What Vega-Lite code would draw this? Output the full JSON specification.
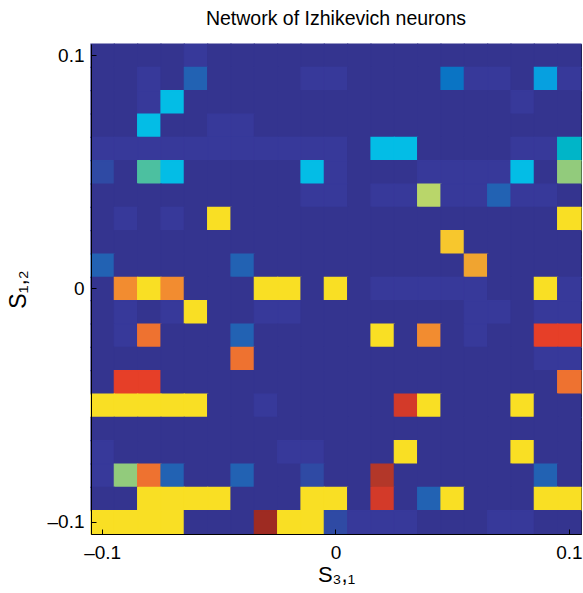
{
  "$schema": "https://vega.github.io/schema/vega-lite/v6.json",
  "width": 490,
  "height": 490,
  "autosize": {"type": "none"},
  "padding": {"left": 91, "top": 44, "right": 2, "bottom": 59},
  "background": "white",
  "config": {
    "font": "Liberation Sans",
    "view": {"stroke": "#000000", "strokeWidth": 1, "fill": "#34348f"},
    "axis": {"labelFont": "Liberation Sans", "titleFont": "Liberation Sans", "labelColor": "#000", "titleColor": "#000", "domainColor": "#000", "tickColor": "#000", "titleFontWeight": "normal", "grid": false}
  },
  "title": {"text": "Network of Izhikevich neurons", "fontSize": 19.5, "fontWeight": "normal", "color": "#000", "font": "Liberation Sans", "anchor": "middle", "offset": 14},
  "data": {"values": [
{"x":-0.1,"y":0.1,"v":0},{"x":-0.09,"y":0.1,"v":0},{"x":-0.08,"y":0.1,"v":0},{"x":-0.07,"y":0.1,"v":0},{"x":-0.06,"y":0.1,"v":1},{"x":-0.05,"y":0.1,"v":0},{"x":-0.04,"y":0.1,"v":0},{"x":-0.03,"y":0.1,"v":0},{"x":-0.02,"y":0.1,"v":0},{"x":-0.01,"y":0.1,"v":0},{"x":0,"y":0.1,"v":0},{"x":0.01,"y":0.1,"v":0},{"x":0.02,"y":0.1,"v":0},{"x":0.03,"y":0.1,"v":0},{"x":0.04,"y":0.1,"v":0},{"x":0.05,"y":0.1,"v":0},{"x":0.06,"y":0.1,"v":0},{"x":0.07,"y":0.1,"v":0},{"x":0.08,"y":0.1,"v":0},{"x":0.09,"y":0.1,"v":0},{"x":0.1,"y":0.1,"v":0},
{"x":-0.1,"y":0.09,"v":0},{"x":-0.09,"y":0.09,"v":0},{"x":-0.08,"y":0.09,"v":1},{"x":-0.07,"y":0.09,"v":0},{"x":-0.06,"y":0.09,"v":3},{"x":-0.05,"y":0.09,"v":0},{"x":-0.04,"y":0.09,"v":0},{"x":-0.03,"y":0.09,"v":0},{"x":-0.02,"y":0.09,"v":0},{"x":-0.01,"y":0.09,"v":1},{"x":0,"y":0.09,"v":1},{"x":0.01,"y":0.09,"v":0},{"x":0.02,"y":0.09,"v":0},{"x":0.03,"y":0.09,"v":0},{"x":0.04,"y":0.09,"v":0},{"x":0.05,"y":0.09,"v":4},{"x":0.06,"y":0.09,"v":1},{"x":0.07,"y":0.09,"v":1},{"x":0.08,"y":0.09,"v":0},{"x":0.09,"y":0.09,"v":5},{"x":0.1,"y":0.09,"v":1},
{"x":-0.1,"y":0.08,"v":0},{"x":-0.09,"y":0.08,"v":0},{"x":-0.08,"y":0.08,"v":1},{"x":-0.07,"y":0.08,"v":6},{"x":-0.06,"y":0.08,"v":0},{"x":-0.05,"y":0.08,"v":0},{"x":-0.04,"y":0.08,"v":0},{"x":-0.03,"y":0.08,"v":0},{"x":-0.02,"y":0.08,"v":0},{"x":-0.01,"y":0.08,"v":0},{"x":0,"y":0.08,"v":0},{"x":0.01,"y":0.08,"v":0},{"x":0.02,"y":0.08,"v":0},{"x":0.03,"y":0.08,"v":0},{"x":0.04,"y":0.08,"v":0},{"x":0.05,"y":0.08,"v":0},{"x":0.06,"y":0.08,"v":0},{"x":0.07,"y":0.08,"v":0},{"x":0.08,"y":0.08,"v":1},{"x":0.09,"y":0.08,"v":0},{"x":0.1,"y":0.08,"v":0},
{"x":-0.1,"y":0.07,"v":0},{"x":-0.09,"y":0.07,"v":0},{"x":-0.08,"y":0.07,"v":6},{"x":-0.07,"y":0.07,"v":0},{"x":-0.06,"y":0.07,"v":0},{"x":-0.05,"y":0.07,"v":1},{"x":-0.04,"y":0.07,"v":1},{"x":-0.03,"y":0.07,"v":0},{"x":-0.02,"y":0.07,"v":0},{"x":-0.01,"y":0.07,"v":0},{"x":0,"y":0.07,"v":0},{"x":0.01,"y":0.07,"v":0},{"x":0.02,"y":0.07,"v":0},{"x":0.03,"y":0.07,"v":0},{"x":0.04,"y":0.07,"v":0},{"x":0.05,"y":0.07,"v":0},{"x":0.06,"y":0.07,"v":0},{"x":0.07,"y":0.07,"v":0},{"x":0.08,"y":0.07,"v":0},{"x":0.09,"y":0.07,"v":0},{"x":0.1,"y":0.07,"v":0},
{"x":-0.1,"y":0.06,"v":1},{"x":-0.09,"y":0.06,"v":1},{"x":-0.08,"y":0.06,"v":1},{"x":-0.07,"y":0.06,"v":1},{"x":-0.06,"y":0.06,"v":1},{"x":-0.05,"y":0.06,"v":1},{"x":-0.04,"y":0.06,"v":1},{"x":-0.03,"y":0.06,"v":1},{"x":-0.02,"y":0.06,"v":1},{"x":-0.01,"y":0.06,"v":1},{"x":0,"y":0.06,"v":1},{"x":0.01,"y":0.06,"v":0},{"x":0.02,"y":0.06,"v":6},{"x":0.03,"y":0.06,"v":6},{"x":0.04,"y":0.06,"v":0},{"x":0.05,"y":0.06,"v":0},{"x":0.06,"y":0.06,"v":0},{"x":0.07,"y":0.06,"v":0},{"x":0.08,"y":0.06,"v":1},{"x":0.09,"y":0.06,"v":1},{"x":0.1,"y":0.06,"v":7},
{"x":-0.1,"y":0.05,"v":2},{"x":-0.09,"y":0.05,"v":0},{"x":-0.08,"y":0.05,"v":8},{"x":-0.07,"y":0.05,"v":6},{"x":-0.06,"y":0.05,"v":0},{"x":-0.05,"y":0.05,"v":0},{"x":-0.04,"y":0.05,"v":0},{"x":-0.03,"y":0.05,"v":0},{"x":-0.02,"y":0.05,"v":0},{"x":-0.01,"y":0.05,"v":6},{"x":0,"y":0.05,"v":1},{"x":0.01,"y":0.05,"v":0},{"x":0.02,"y":0.05,"v":0},{"x":0.03,"y":0.05,"v":0},{"x":0.04,"y":0.05,"v":1},{"x":0.05,"y":0.05,"v":1},{"x":0.06,"y":0.05,"v":1},{"x":0.07,"y":0.05,"v":1},{"x":0.08,"y":0.05,"v":6},{"x":0.09,"y":0.05,"v":0},{"x":0.1,"y":0.05,"v":9},
{"x":-0.1,"y":0.04,"v":0},{"x":-0.09,"y":0.04,"v":0},{"x":-0.08,"y":0.04,"v":0},{"x":-0.07,"y":0.04,"v":0},{"x":-0.06,"y":0.04,"v":0},{"x":-0.05,"y":0.04,"v":0},{"x":-0.04,"y":0.04,"v":0},{"x":-0.03,"y":0.04,"v":0},{"x":-0.02,"y":0.04,"v":0},{"x":-0.01,"y":0.04,"v":1},{"x":0,"y":0.04,"v":1},{"x":0.01,"y":0.04,"v":0},{"x":0.02,"y":0.04,"v":1},{"x":0.03,"y":0.04,"v":1},{"x":0.04,"y":0.04,"v":10},{"x":0.05,"y":0.04,"v":1},{"x":0.06,"y":0.04,"v":1},{"x":0.07,"y":0.04,"v":3},{"x":0.08,"y":0.04,"v":1},{"x":0.09,"y":0.04,"v":1},{"x":0.1,"y":0.04,"v":0},
{"x":-0.1,"y":0.03,"v":0},{"x":-0.09,"y":0.03,"v":1},{"x":-0.08,"y":0.03,"v":0},{"x":-0.07,"y":0.03,"v":1},{"x":-0.06,"y":0.03,"v":0},{"x":-0.05,"y":0.03,"v":11},{"x":-0.04,"y":0.03,"v":0},{"x":-0.03,"y":0.03,"v":0},{"x":-0.02,"y":0.03,"v":0},{"x":-0.01,"y":0.03,"v":0},{"x":0,"y":0.03,"v":0},{"x":0.01,"y":0.03,"v":0},{"x":0.02,"y":0.03,"v":0},{"x":0.03,"y":0.03,"v":0},{"x":0.04,"y":0.03,"v":0},{"x":0.05,"y":0.03,"v":0},{"x":0.06,"y":0.03,"v":0},{"x":0.07,"y":0.03,"v":0},{"x":0.08,"y":0.03,"v":0},{"x":0.09,"y":0.03,"v":0},{"x":0.1,"y":0.03,"v":11},
{"x":-0.1,"y":0.02,"v":0},{"x":-0.09,"y":0.02,"v":0},{"x":-0.08,"y":0.02,"v":0},{"x":-0.07,"y":0.02,"v":0},{"x":-0.06,"y":0.02,"v":0},{"x":-0.05,"y":0.02,"v":0},{"x":-0.04,"y":0.02,"v":0},{"x":-0.03,"y":0.02,"v":0},{"x":-0.02,"y":0.02,"v":0},{"x":-0.01,"y":0.02,"v":0},{"x":0,"y":0.02,"v":0},{"x":0.01,"y":0.02,"v":0},{"x":0.02,"y":0.02,"v":0},{"x":0.03,"y":0.02,"v":0},{"x":0.04,"y":0.02,"v":0},{"x":0.05,"y":0.02,"v":12},{"x":0.06,"y":0.02,"v":0},{"x":0.07,"y":0.02,"v":0},{"x":0.08,"y":0.02,"v":0},{"x":0.09,"y":0.02,"v":0},{"x":0.1,"y":0.02,"v":0},
{"x":-0.1,"y":0.01,"v":3},{"x":-0.09,"y":0.01,"v":0},{"x":-0.08,"y":0.01,"v":0},{"x":-0.07,"y":0.01,"v":0},{"x":-0.06,"y":0.01,"v":0},{"x":-0.05,"y":0.01,"v":0},{"x":-0.04,"y":0.01,"v":3},{"x":-0.03,"y":0.01,"v":0},{"x":-0.02,"y":0.01,"v":0},{"x":-0.01,"y":0.01,"v":0},{"x":0,"y":0.01,"v":0},{"x":0.01,"y":0.01,"v":0},{"x":0.02,"y":0.01,"v":0},{"x":0.03,"y":0.01,"v":0},{"x":0.04,"y":0.01,"v":0},{"x":0.05,"y":0.01,"v":0},{"x":0.06,"y":0.01,"v":13},{"x":0.07,"y":0.01,"v":0},{"x":0.08,"y":0.01,"v":0},{"x":0.09,"y":0.01,"v":0},{"x":0.1,"y":0.01,"v":0},
{"x":-0.1,"y":0,"v":0},{"x":-0.09,"y":0,"v":14},{"x":-0.08,"y":0,"v":11},{"x":-0.07,"y":0,"v":14},{"x":-0.06,"y":0,"v":0},{"x":-0.05,"y":0,"v":0},{"x":-0.04,"y":0,"v":0},{"x":-0.03,"y":0,"v":11},{"x":-0.02,"y":0,"v":11},{"x":-0.01,"y":0,"v":0},{"x":0,"y":0,"v":11},{"x":0.01,"y":0,"v":0},{"x":0.02,"y":0,"v":1},{"x":0.03,"y":0,"v":1},{"x":0.04,"y":0,"v":1},{"x":0.05,"y":0,"v":1},{"x":0.06,"y":0,"v":1},{"x":0.07,"y":0,"v":0},{"x":0.08,"y":0,"v":0},{"x":0.09,"y":0,"v":11},{"x":0.1,"y":0,"v":1},
{"x":-0.1,"y":-0.01,"v":0},{"x":-0.09,"y":-0.01,"v":1},{"x":-0.08,"y":-0.01,"v":0},{"x":-0.07,"y":-0.01,"v":1},{"x":-0.06,"y":-0.01,"v":11},{"x":-0.05,"y":-0.01,"v":0},{"x":-0.04,"y":-0.01,"v":0},{"x":-0.03,"y":-0.01,"v":1},{"x":-0.02,"y":-0.01,"v":1},{"x":-0.01,"y":-0.01,"v":0},{"x":0,"y":-0.01,"v":0},{"x":0.01,"y":-0.01,"v":0},{"x":0.02,"y":-0.01,"v":0},{"x":0.03,"y":-0.01,"v":0},{"x":0.04,"y":-0.01,"v":0},{"x":0.05,"y":-0.01,"v":0},{"x":0.06,"y":-0.01,"v":1},{"x":0.07,"y":-0.01,"v":1},{"x":0.08,"y":-0.01,"v":0},{"x":0.09,"y":-0.01,"v":1},{"x":0.1,"y":-0.01,"v":1},
{"x":-0.1,"y":-0.02,"v":0},{"x":-0.09,"y":-0.02,"v":1},{"x":-0.08,"y":-0.02,"v":15},{"x":-0.07,"y":-0.02,"v":0},{"x":-0.06,"y":-0.02,"v":0},{"x":-0.05,"y":-0.02,"v":0},{"x":-0.04,"y":-0.02,"v":3},{"x":-0.03,"y":-0.02,"v":0},{"x":-0.02,"y":-0.02,"v":0},{"x":-0.01,"y":-0.02,"v":0},{"x":0,"y":-0.02,"v":0},{"x":0.01,"y":-0.02,"v":0},{"x":0.02,"y":-0.02,"v":11},{"x":0.03,"y":-0.02,"v":0},{"x":0.04,"y":-0.02,"v":14},{"x":0.05,"y":-0.02,"v":0},{"x":0.06,"y":-0.02,"v":1},{"x":0.07,"y":-0.02,"v":0},{"x":0.08,"y":-0.02,"v":0},{"x":0.09,"y":-0.02,"v":16},{"x":0.1,"y":-0.02,"v":16},
{"x":-0.1,"y":-0.03,"v":0},{"x":-0.09,"y":-0.03,"v":0},{"x":-0.08,"y":-0.03,"v":0},{"x":-0.07,"y":-0.03,"v":0},{"x":-0.06,"y":-0.03,"v":0},{"x":-0.05,"y":-0.03,"v":0},{"x":-0.04,"y":-0.03,"v":15},{"x":-0.03,"y":-0.03,"v":0},{"x":-0.02,"y":-0.03,"v":0},{"x":-0.01,"y":-0.03,"v":0},{"x":0,"y":-0.03,"v":0},{"x":0.01,"y":-0.03,"v":0},{"x":0.02,"y":-0.03,"v":0},{"x":0.03,"y":-0.03,"v":0},{"x":0.04,"y":-0.03,"v":0},{"x":0.05,"y":-0.03,"v":0},{"x":0.06,"y":-0.03,"v":0},{"x":0.07,"y":-0.03,"v":0},{"x":0.08,"y":-0.03,"v":0},{"x":0.09,"y":-0.03,"v":1},{"x":0.1,"y":-0.03,"v":1},
{"x":-0.1,"y":-0.04,"v":0},{"x":-0.09,"y":-0.04,"v":16},{"x":-0.08,"y":-0.04,"v":16},{"x":-0.07,"y":-0.04,"v":0},{"x":-0.06,"y":-0.04,"v":0},{"x":-0.05,"y":-0.04,"v":0},{"x":-0.04,"y":-0.04,"v":0},{"x":-0.03,"y":-0.04,"v":0},{"x":-0.02,"y":-0.04,"v":0},{"x":-0.01,"y":-0.04,"v":0},{"x":0,"y":-0.04,"v":0},{"x":0.01,"y":-0.04,"v":0},{"x":0.02,"y":-0.04,"v":0},{"x":0.03,"y":-0.04,"v":0},{"x":0.04,"y":-0.04,"v":0},{"x":0.05,"y":-0.04,"v":0},{"x":0.06,"y":-0.04,"v":0},{"x":0.07,"y":-0.04,"v":0},{"x":0.08,"y":-0.04,"v":0},{"x":0.09,"y":-0.04,"v":0},{"x":0.1,"y":-0.04,"v":15},
{"x":-0.1,"y":-0.05,"v":11},{"x":-0.09,"y":-0.05,"v":11},{"x":-0.08,"y":-0.05,"v":11},{"x":-0.07,"y":-0.05,"v":11},{"x":-0.06,"y":-0.05,"v":11},{"x":-0.05,"y":-0.05,"v":0},{"x":-0.04,"y":-0.05,"v":0},{"x":-0.03,"y":-0.05,"v":1},{"x":-0.02,"y":-0.05,"v":0},{"x":-0.01,"y":-0.05,"v":0},{"x":0,"y":-0.05,"v":0},{"x":0.01,"y":-0.05,"v":0},{"x":0.02,"y":-0.05,"v":0},{"x":0.03,"y":-0.05,"v":17},{"x":0.04,"y":-0.05,"v":11},{"x":0.05,"y":-0.05,"v":0},{"x":0.06,"y":-0.05,"v":0},{"x":0.07,"y":-0.05,"v":0},{"x":0.08,"y":-0.05,"v":11},{"x":0.09,"y":-0.05,"v":0},{"x":0.1,"y":-0.05,"v":0},
{"x":-0.1,"y":-0.06,"v":0},{"x":-0.09,"y":-0.06,"v":0},{"x":-0.08,"y":-0.06,"v":0},{"x":-0.07,"y":-0.06,"v":0},{"x":-0.06,"y":-0.06,"v":0},{"x":-0.05,"y":-0.06,"v":0},{"x":-0.04,"y":-0.06,"v":0},{"x":-0.03,"y":-0.06,"v":0},{"x":-0.02,"y":-0.06,"v":0},{"x":-0.01,"y":-0.06,"v":0},{"x":0,"y":-0.06,"v":0},{"x":0.01,"y":-0.06,"v":0},{"x":0.02,"y":-0.06,"v":0},{"x":0.03,"y":-0.06,"v":0},{"x":0.04,"y":-0.06,"v":0},{"x":0.05,"y":-0.06,"v":0},{"x":0.06,"y":-0.06,"v":0},{"x":0.07,"y":-0.06,"v":0},{"x":0.08,"y":-0.06,"v":0},{"x":0.09,"y":-0.06,"v":0},{"x":0.1,"y":-0.06,"v":0},
{"x":-0.1,"y":-0.07,"v":1},{"x":-0.09,"y":-0.07,"v":0},{"x":-0.08,"y":-0.07,"v":0},{"x":-0.07,"y":-0.07,"v":0},{"x":-0.06,"y":-0.07,"v":0},{"x":-0.05,"y":-0.07,"v":0},{"x":-0.04,"y":-0.07,"v":0},{"x":-0.03,"y":-0.07,"v":0},{"x":-0.02,"y":-0.07,"v":1},{"x":-0.01,"y":-0.07,"v":1},{"x":0,"y":-0.07,"v":0},{"x":0.01,"y":-0.07,"v":0},{"x":0.02,"y":-0.07,"v":0},{"x":0.03,"y":-0.07,"v":11},{"x":0.04,"y":-0.07,"v":0},{"x":0.05,"y":-0.07,"v":0},{"x":0.06,"y":-0.07,"v":0},{"x":0.07,"y":-0.07,"v":0},{"x":0.08,"y":-0.07,"v":11},{"x":0.09,"y":-0.07,"v":0},{"x":0.1,"y":-0.07,"v":0},
{"x":-0.1,"y":-0.08,"v":1},{"x":-0.09,"y":-0.08,"v":9},{"x":-0.08,"y":-0.08,"v":15},{"x":-0.07,"y":-0.08,"v":3},{"x":-0.06,"y":-0.08,"v":0},{"x":-0.05,"y":-0.08,"v":0},{"x":-0.04,"y":-0.08,"v":3},{"x":-0.03,"y":-0.08,"v":0},{"x":-0.02,"y":-0.08,"v":0},{"x":-0.01,"y":-0.08,"v":2},{"x":0,"y":-0.08,"v":0},{"x":0.01,"y":-0.08,"v":0},{"x":0.02,"y":-0.08,"v":18},{"x":0.03,"y":-0.08,"v":0},{"x":0.04,"y":-0.08,"v":0},{"x":0.05,"y":-0.08,"v":0},{"x":0.06,"y":-0.08,"v":0},{"x":0.07,"y":-0.08,"v":0},{"x":0.08,"y":-0.08,"v":0},{"x":0.09,"y":-0.08,"v":3},{"x":0.1,"y":-0.08,"v":0},
{"x":-0.1,"y":-0.09,"v":0},{"x":-0.09,"y":-0.09,"v":0},{"x":-0.08,"y":-0.09,"v":11},{"x":-0.07,"y":-0.09,"v":11},{"x":-0.06,"y":-0.09,"v":11},{"x":-0.05,"y":-0.09,"v":11},{"x":-0.04,"y":-0.09,"v":0},{"x":-0.03,"y":-0.09,"v":0},{"x":-0.02,"y":-0.09,"v":0},{"x":-0.01,"y":-0.09,"v":11},{"x":0,"y":-0.09,"v":11},{"x":0.01,"y":-0.09,"v":0},{"x":0.02,"y":-0.09,"v":17},{"x":0.03,"y":-0.09,"v":0},{"x":0.04,"y":-0.09,"v":3},{"x":0.05,"y":-0.09,"v":11},{"x":0.06,"y":-0.09,"v":0},{"x":0.07,"y":-0.09,"v":0},{"x":0.08,"y":-0.09,"v":0},{"x":0.09,"y":-0.09,"v":11},{"x":0.1,"y":-0.09,"v":11},
{"x":-0.1,"y":-0.1,"v":11},{"x":-0.09,"y":-0.1,"v":11},{"x":-0.08,"y":-0.1,"v":11},{"x":-0.07,"y":-0.1,"v":11},{"x":-0.06,"y":-0.1,"v":0},{"x":-0.05,"y":-0.1,"v":0},{"x":-0.04,"y":-0.1,"v":0},{"x":-0.03,"y":-0.1,"v":19},{"x":-0.02,"y":-0.1,"v":11},{"x":-0.01,"y":-0.1,"v":11},{"x":0,"y":-0.1,"v":2},{"x":0.01,"y":-0.1,"v":1},{"x":0.02,"y":-0.1,"v":1},{"x":0.03,"y":-0.1,"v":1},{"x":0.04,"y":-0.1,"v":0},{"x":0.05,"y":-0.1,"v":0},{"x":0.06,"y":-0.1,"v":0},{"x":0.07,"y":-0.1,"v":1},{"x":0.08,"y":-0.1,"v":1},{"x":0.09,"y":-0.1,"v":0},{"x":0.1,"y":-0.1,"v":0}
  ]},
  "mark": {"type": "rect", "strokeWidth": 1.2},
  "encoding": {
    "x": {"field": "x", "type": "ordinal", "scale": {"paddingInner": 0, "paddingOuter": 0},
      "axis": {"values": [-0.1, 0, 0.1], "labelAngle": 0, "labelFontSize": 19, "labelPadding": 14, "tickSize": -5, "zindex": 1, "title": "S₃,₁", "titleFontSize": 22, "titlePadding": 2, "labelExpr": "replace(datum.label, '-', '–')"}},
    "y": {"field": "y", "type": "ordinal", "sort": "descending", "scale": {"paddingInner": 0, "paddingOuter": 0},
      "axis": {"values": [-0.1, 0, 0.1], "labelFontSize": 19, "labelPadding": 12, "tickSize": -5, "zindex": 1, "title": "S₁,₂", "titleFontSize": 23, "titlePadding": 17, "labelExpr": "replace(datum.label, '-', '–')"}},
    "fill": {"field": "v", "type": "quantitative", "legend": null,
      "scale": {"type": "linear", "domain": [0,1,2,3,4,5,6,7,8,9,10,11,12,13,14,15,16,17,18,19],
        "range": ["#34348f","#37399a","#2f4aa4","#2262b3","#0a74c4","#06a0e0","#03bde6","#00b5c8","#4cc0a0","#92cb7c","#b9d66a","#f9df24","#f7c72d","#f0a430","#f28c30","#ee7230","#e63f28","#d33a29","#b33729","#9e2b22"]}},
    "stroke": {"field": "v", "type": "quantitative", "legend": null,
      "scale": {"type": "linear", "domain": [0,1,2,3,4,5,6,7,8,9,10,11,12,13,14,15,16,17,18,19],
        "range": ["#34348f","#37399a","#2f4aa4","#2262b3","#0a74c4","#06a0e0","#03bde6","#00b5c8","#4cc0a0","#92cb7c","#b9d66a","#f9df24","#f7c72d","#f0a430","#f28c30","#ee7230","#e63f28","#d33a29","#b33729","#9e2b22"]}}
  }
}
